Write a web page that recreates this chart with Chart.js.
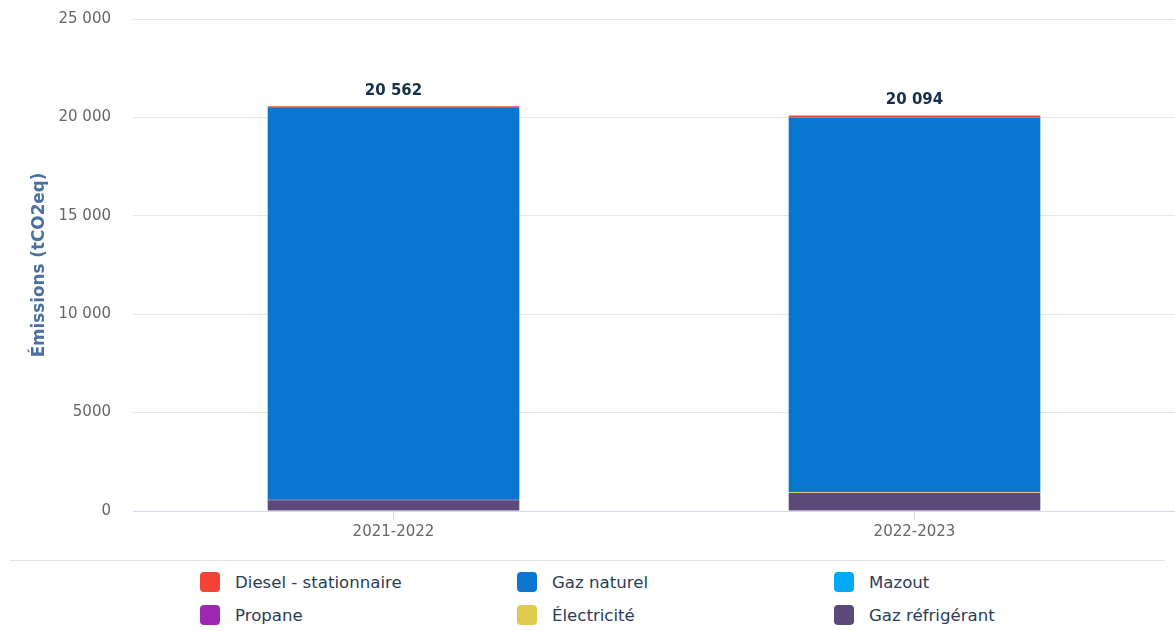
<!DOCTYPE html>
<html>
<head>
<meta charset="utf-8">
<script src="https://cdn.jsdelivr.net/npm/chart.js@4"></script>
<style>
  body { margin: 0; background: #fff; font-family: "DejaVu Sans", sans-serif; }
  #wrap { position: relative; width: 1175px; height: 544px; }
  #sep { position: absolute; left: 10px; top: 560px; width: 1155px; height: 0; border-top: 1px solid #e3e3e3; }
  #legende { position: absolute; left: 200px; top: 572px; display: grid; grid-template-columns: 317px 317px 317px; row-gap: 13px; }
  .item { display: flex; align-items: center; height: 20px; font-size: 16.6px; color: #2b3d55; }
  .item span.box { width: 20px; height: 20px; border-radius: 4px; margin-right: 15px; display: inline-block; }
</style>
</head>
<body>
<div id="wrap"><canvas id="graphique"></canvas></div>
<div id="sep"></div>
<div id="legende"></div>
<script>
// Données
const annees = ['2021-2022', '2022-2023']
const diesel = [45, 105]
const gazNaturel = [19947, 19039]
const mazout = [0, 0]
const propane = [20, 0]
const electricite = [0, 40]
const gazRefrigerant = [550, 910]
const ticksY = [0, 5000, 10000, 15000, 20000, 25000]

const couleurs = {
  diesel: '#f44336',
  gaz: '#0a76d0',
  mazout: '#03a9f4',
  propane: '#9c27b0',
  elec: '#dfcc4f',
  refrig: '#5d4a7a'
}

// format "20 562" mais "5000"
const formater = (v) => {
  v = Math.round(v)
  if (Math.abs(v) < 10000) return String(v)
  return String(v).replace(/\B(?=(\d{3})+(?!\d))/g, ' ')
}

// ordre d'empilement : du bas vers le haut
const datasets = [
  {label: 'Gaz réfrigérant', data: gazRefrigerant, backgroundColor: couleurs.refrig},
  {label: 'Électricité', data: electricite, backgroundColor: couleurs.elec},
  {label: 'Propane', data: propane, backgroundColor: couleurs.propane},
  {label: 'Mazout', data: mazout, backgroundColor: couleurs.mazout},
  {label: 'Gaz naturel', data: gazNaturel, backgroundColor: couleurs.gaz},
  {label: 'Diesel - stationnaire', data: diesel, backgroundColor: couleurs.diesel}
]

const ordreLegende = ['Diesel - stationnaire', 'Gaz naturel', 'Mazout', 'Propane', 'Électricité', 'Gaz réfrigérant']

//Plugin pour les totaux au-dessus des barres
const totaux = {
  id: 'totaux',
  afterDatasetsDraw(chart) {
    const ctx = chart.ctx
    const y = chart.scales.y
    const x = chart.scales.x
    ctx.save()
    ctx.font = 'bold 15px "DejaVu Sans"'
    ctx.fillStyle = '#15304a'
    ctx.textAlign = 'center'
    ctx.textBaseline = 'middle'
    annees.forEach((a, i) => {
      let somme = 0
      chart.data.datasets.forEach(d => somme += d.data[i])
      ctx.fillText(formater(somme), x.getPixelForValue(i), y.getPixelForValue(somme) - 15)
    })
    ctx.restore()
  }
}

new Chart(document.querySelector('#graphique'), {
  type: 'bar',
  data: { labels: annees, datasets: datasets },
  plugins: [totaux],
  options: {
    responsive: true,
    maintainAspectRatio: false,
    animation: false,
    layout: { padding: { top: 0, right: 0, left: 0, bottom: 0 } },
    plugins: { legend: { display: false }, tooltip: { enabled: false } },
    datasets: { bar: { categoryPercentage: 0.6, barPercentage: 0.805 } },
    scales: {
      x: {
        stacked: true,
        grid: { display: true, offset: false, drawOnChartArea: false, tickLength: 9, color: '#d6d9ec' },
        border: { color: '#d6d9ec' },
        ticks: { color: '#666', font: { family: 'DejaVu Sans', size: 15 }, padding: 3 }
      },
      y: {
        stacked: true,
        min: 0,
        max: 25000,
        afterBuildTicks: (axis) => { axis.ticks = ticksY.map(v => ({value: v})) },
        afterFit: (axis) => { axis.width = 133 },
        grid: { color: '#e6e6e6', drawTicks: true, tickLength: 12, tickColor: 'rgba(0,0,0,0)' },
        border: { display: false },
        ticks: { color: '#666', font: { family: 'DejaVu Sans', size: 15 }, padding: 10, callback: (v) => formater(v) },
        title: { display: true, text: 'Émissions (tCO2eq)', color: '#4a6fa0', font: { family: 'DejaVu Sans', size: 16.8, weight: 'bold' }, padding: { top: 30, bottom: 0 } }
      }
    }
  }
})

// Légende HTML en 3 colonnes
const legende = document.querySelector('#legende')
ordreLegende.forEach(nom => {
  const d = datasets.find(ds => ds.label === nom)
  const div = document.createElement('div')
  div.className = 'item'
  div.innerHTML = '<span class="box" style="background:' + d.backgroundColor + '"></span>' + nom
  legende.appendChild(div)
})
</script>
</body>
</html>
